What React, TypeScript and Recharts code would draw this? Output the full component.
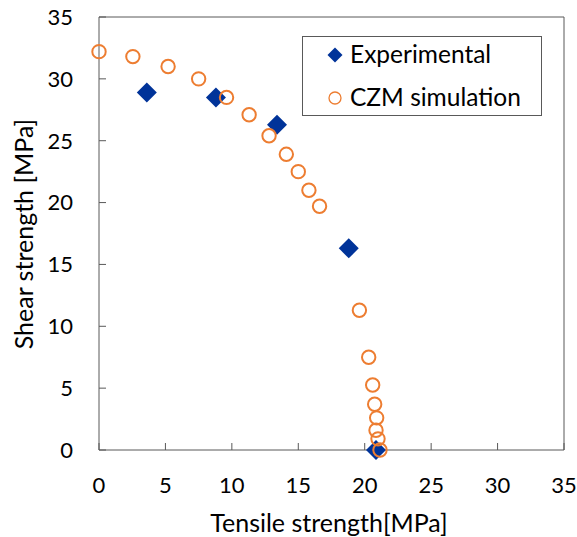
import { ScatterChart, Scatter, XAxis, YAxis, ReferenceLine, Legend } from 'recharts'

// ─── Data ────────────────────────────────────────────────────────────────────
const TICKS = [0, 5, 10, 15, 20, 25, 30, 35]

const EXP_X = [3.6, 8.8, 13.4, 18.8, 20.85]
const EXP_Y = [28.9, 28.5, 26.3, 16.3, 0]

const CZM_X = [0, 2.55, 5.2, 7.5, 9.6, 11.3, 12.8, 14.1, 15.0, 15.8, 16.6, 19.6, 20.3, 20.6, 20.75, 20.9, 20.85, 21.0, 21.15]
const CZM_Y = [32.2, 31.8, 31.0, 30.0, 28.5, 27.1, 25.4, 23.9, 22.5, 21.0, 19.7, 11.3, 7.5, 5.25, 3.7, 2.6, 1.6, 0.9, 0]

const experimental = EXP_X.map((x, i) => ({ x, y: EXP_Y[i] }))
const czm = CZM_X.map((x, i) => ({ x, y: CZM_Y[i] }))

// ─── Styling ─────────────────────────────────────────────────────────────────
const FONT = 'Lato, "Liberation Sans", sans-serif'
const AXIS_COLOR = '#595959'
const BLUE = '#003399'
const ORANGE = '#ED7D31'
const TICK = { fontSize: 22, fill: '#000', fontFamily: FONT }

const Diamond = (p: any) => {
  const { cx, cy } = p
  const r = 10
  return <path d={`M${cx},${cy - r}L${cx + r},${cy}L${cx},${cy + r}L${cx - r},${cy}Z`} fill={BLUE} />
}

const Ring = (p: any) => <circle cx={p.cx} cy={p.cy} r={6.7} fill="none" stroke={ORANGE} strokeWidth={2} />

function LegendBox() {
  return (
    <div
      style={{
        position: 'relative',
        width: 240,
        height: 80,
        boxSizing: 'border-box',
        border: `1px solid ${AXIS_COLOR}`,
        background: '#fff',
        fontFamily: FONT,
        fontSize: 24.5,
        color: '#000',
      }}
    >
      <svg width={20} height={80} style={{ position: 'absolute', left: 22, top: 0 }}>
        <path d="M10,10.5L17.5,18L10,25.5L2.5,18Z" fill={BLUE} />
        <circle cx={10} cy={61} r={6} fill="none" stroke={ORANGE} strokeWidth={1.3} />
      </svg>
      <div style={{ position: 'absolute', left: 47, top: 18, transform: 'translateY(-55%)', whiteSpace: 'nowrap' }}>Experimental</div>
      <div style={{ position: 'absolute', left: 47, top: 61, transform: 'translateY(-55%)', whiteSpace: 'nowrap' }}>CZM simulation</div>
    </div>
  )
}

const YTitle = () => (
  <text x={33} y={234} transform="rotate(-90 33 234)" textAnchor="middle" fontSize={25} fontFamily={FONT} fill="#000">
    Shear strength [MPa]
  </text>
)

const XTitle = () => (
  <text x={329} y={532} textAnchor="middle" fontSize={25} fontFamily={FONT} fill="#000">
    Tensile strength[MPa]
  </text>
)

export default function App() {
  return (
    <div style={{ position: 'absolute', left: 0, top: 0, background: '#fff' }}>
      <ScatterChart width={577} height={537} margin={{ top: 17, right: 13, bottom: 0, left: 0 }}>
        <XAxis
          type="number"
          dataKey="x"
          domain={[0, 35]}
          ticks={TICKS}
          height={87}
          tick={TICK}
          tickSize={-7}
          tickMargin={34}
          axisLine={{ stroke: AXIS_COLOR }}
          tickLine={{ stroke: AXIS_COLOR }}
          label={<XTitle />}
        />
        <YAxis
          type="number"
          dataKey="y"
          domain={[0, 35]}
          ticks={TICKS}
          width={99}
          tick={TICK}
          tickSize={-7}
          tickMargin={33}
          axisLine={{ stroke: AXIS_COLOR }}
          tickLine={{ stroke: AXIS_COLOR }}
          label={<YTitle />}
        />
        <ReferenceLine y={35} stroke={AXIS_COLOR} />
        <ReferenceLine x={35} stroke={AXIS_COLOR} />
        <Legend
          layout="horizontal"
          verticalAlign="middle"
          align="center"
          content={<LegendBox />}
          wrapperStyle={{ left: 302, top: 36, width: 240, height: 80 }}
        />
        <Scatter name="Experimental" data={experimental} shape={Diamond} isAnimationActive={false} />
        <Scatter name="CZM simulation" data={czm} shape={Ring} isAnimationActive={false} />
      </ScatterChart>
    </div>
  )
}
